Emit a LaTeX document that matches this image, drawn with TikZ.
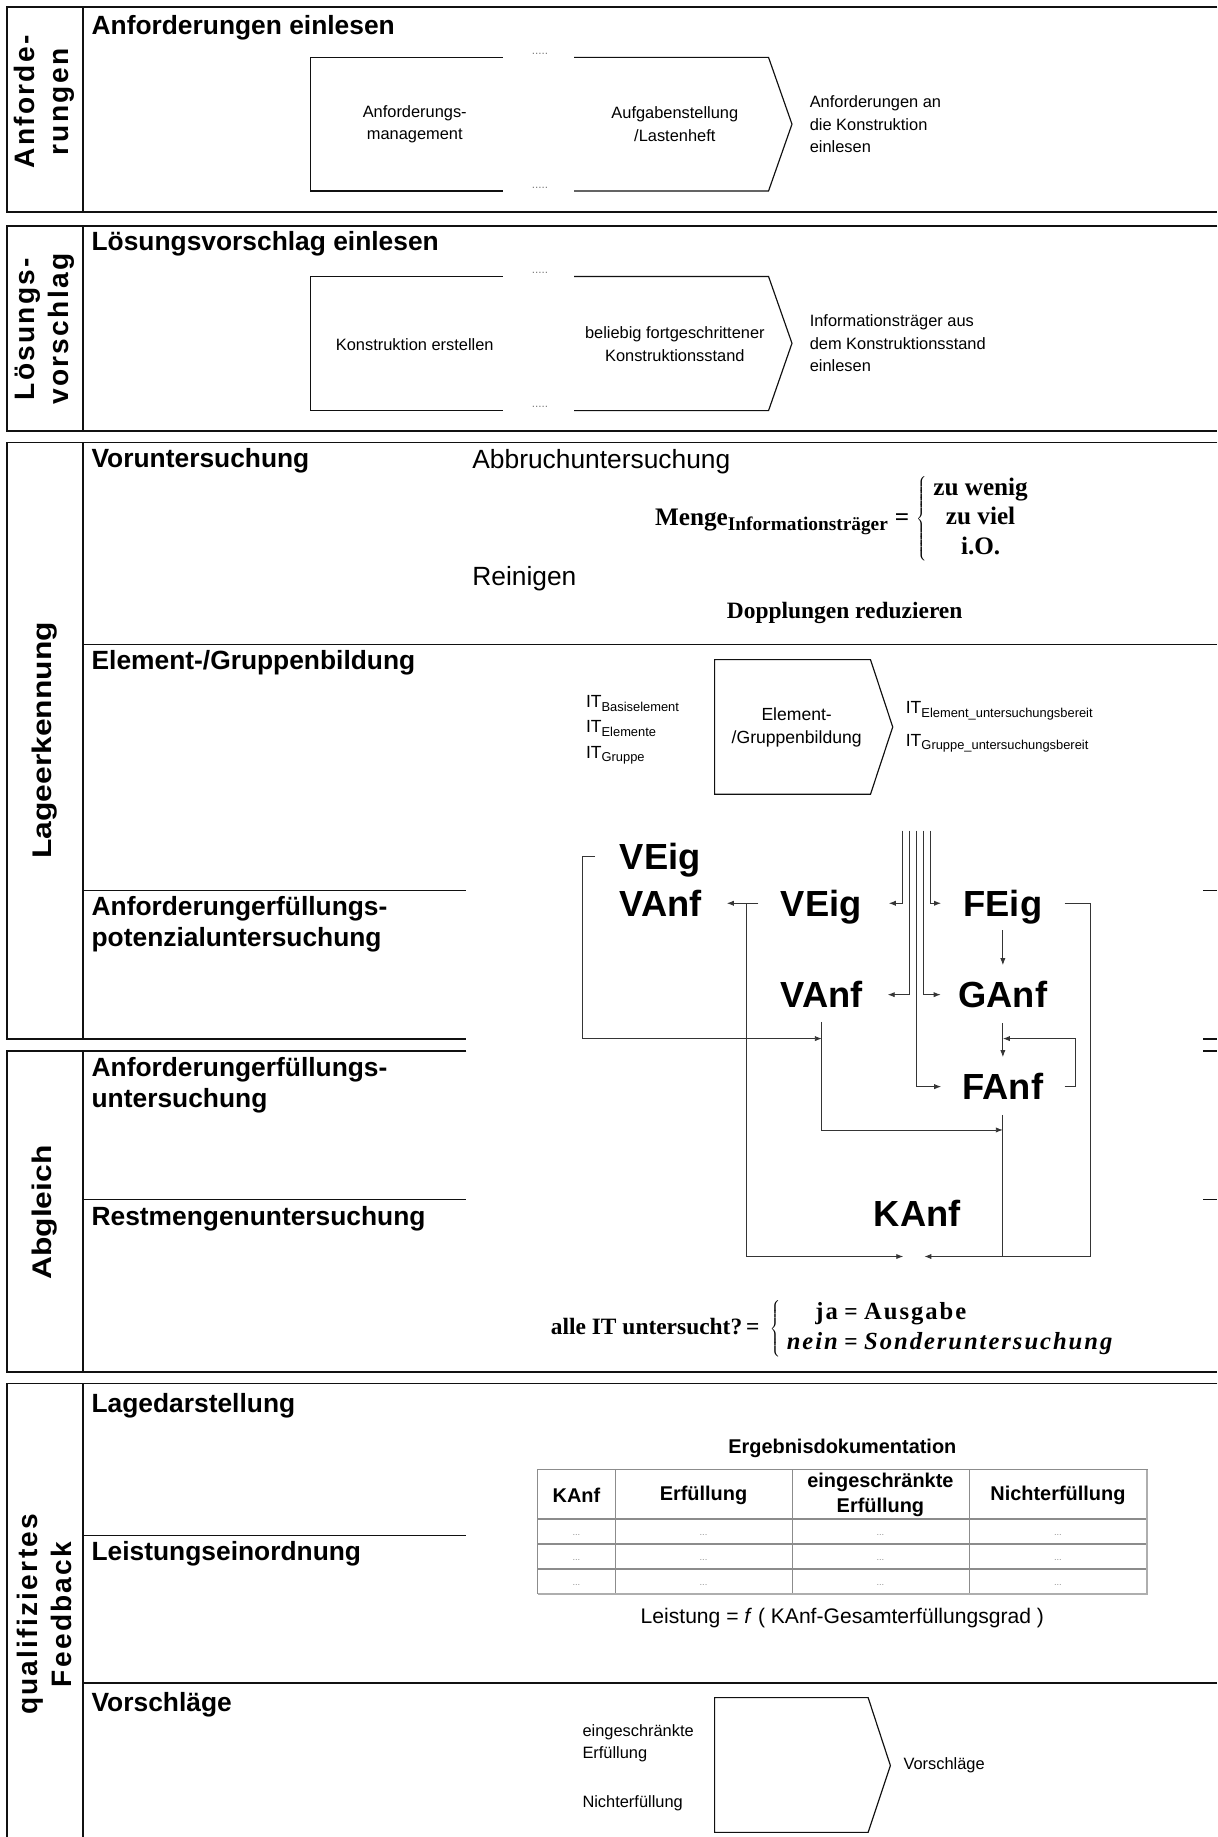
\documentclass[tikz,border=0pt]{standalone}
\usepackage{fontspec}
\setmainfont{Liberation Sans}
\newfontfamily\eqserif{Liberation Serif}
\usepackage{tikz}
\usetikzlibrary{positioning, arrows.meta}
\definecolor{ink}{HTML}{111111}
\definecolor{rule}{HTML}{8C8C8C}
\newcommand\lanefont{\fontsize{24}{29}\selectfont\bfseries\addfontfeature{LetterSpace=8}}
\newcommand\lanefitfont{\fontsize{23}{28}\selectfont\bfseries\addfontfeature{FakeStretch=1.18}}
\newcommand\headfont{\fontsize{22.5}{26}\selectfont\bfseries}
\newcommand\bigtxtfont{\fontsize{22.5}{26}\selectfont}
\newcommand\txtfont{\fontsize{14}{19.5}\selectfont}
\newcommand\flfont{\fontsize{31}{36}\selectfont\bfseries}
\newcommand\eqfont{\fontsize{20}{25}\selectfont\eqserif\bfseries}
\newcommand\casefont{\fontsize{21}{26}\selectfont\addfontfeature{LetterSpace=8}}
\newcommand\thfont{\fontsize{17}{21.5}\selectfont\bfseries}
\newcommand\itsub[1]{IT\raisebox{-3pt}{\fontsize{11}{11}\selectfont#1}}

\begin{document}
\begin{tikzpicture}[x=1pt, y=-1pt,
  frame/.style={line width=1.3pt, ink},
  chev/.style={line width=1pt, ink},
  lnk/.style={line width=0.75pt, ink!85},
  arr/.style={lnk, -{Latex[length=6pt, width=4.5pt]}},
  lane/.style={rotate=90, align=center, font=\lanefont, inner sep=0pt},
  lanefit/.style={lane, font=\lanefitfont},
  phase/.style={anchor=west, align=left, font=\headfont, inner sep=0pt},
  big/.style={anchor=west, font=\bigtxtfont, inner sep=0pt},
  txt/.style={align=center, font=\txtfont, inner sep=0pt},
  note/.style={align=left, font=\txtfont, inner sep=0pt},
  eq/.style={font=\eqfont, inner sep=0pt},
  fl/.style={font=\flfont, inner sep=0pt, text height=22pt, text depth=0pt},
  dots/.style={font=\fontsize{10}{10}\selectfont, text=ink!55, inner sep=0pt},
  th/.style={font=\thfont, align=center, inner sep=0pt},
  cell/.style={font=\fontsize{8}{8}\selectfont, text=ink!45, inner sep=0pt}]
  \useasboundingbox (0,0) rectangle (1039,1568);

  \draw[frame] (1039,6) -- (6,6) -- (6,181) -- (1039,181);
  \draw[frame] (71,6) -- (71,181);
  \node[lane] (lreq) at (38,87) {Anforde-\\rungen};
  \node[phase] (preq) at (78,24) {Anforderungen einlesen};
  \draw[chev] (429,49) -- (265,49) -- (265,163) -- (429,163);
  \draw[chev] (490,49) -- (656,49) -- (676,106) -- (656,163) -- (490,163);
  \node[dots] (dreq1) at (461,46) {.....};
  \node[dots] (dreq2) at (461,160) {.....};
  \node[txt] (mgmt) at (354,106) {Anforderungs-\\management};
  \node[txt] (lheft) at (576,106) {Aufgabenstellung\\/Lastenheft};
  \coordinate (tipreq) at (676,106);
  \node[note, right=15pt of tipreq] (reqin) {Anforderungen an\\die Konstruktion\\einlesen};

  \draw[frame] (1039,193) -- (6,193) -- (6,368) -- (1039,368);
  \draw[frame] (71,193) -- (71,368);
  \node[lane] (lsol) at (38,281) {Lösungs-\\vorschlag};
  \node[phase] (psol) at (78,208) {Lösungsvorschlag einlesen};
  \draw[chev] (429,236) -- (265,236) -- (265,350.5) -- (429,350.5);
  \draw[chev] (490,236) -- (656,236) -- (676,293) -- (656,350.5) -- (490,350.5);
  \node[dots] (dsol1) at (461,233) {.....};
  \node[dots] (dsol2) at (461,347.5) {.....};
  \node[txt] (kerst) at (354,294) {Konstruktion erstellen};
  \node[txt] (kstand) at (576,294) {beliebig fortgeschrittener\\Konstruktionsstand};
  \coordinate (tipsol) at (676,293);
  \node[note, right=15pt of tipsol] (solin) {Informationsträger aus\\dem Konstruktionsstand\\einlesen};

  \draw[frame] (1039,377.5) -- (6,377.5) -- (6,887) -- (398,887);
  \draw[frame] (1027,887) -- (1039,887);
  \draw[frame] (71,377.5) -- (71,887);
  \draw[frame] (71,550) -- (1039,550);
  \draw[frame] (71,760) -- (398,760);
  \draw[frame] (1027,760) -- (1039,760);
  \node[lanefit] (lsit) at (38,632) {Lageerkennung};
  \node[phase] (pvor) at (78,393) {Voruntersuchung};
  \node[big] (abbr) at (403,394) {Abbruchuntersuchung};
  \node[eq, anchor=west, font=\fontsize{21.5}{25}\selectfont\eqserif\bfseries] (menge) at (559,443) {Menge\raisebox{-5pt}{\fontsize{16.5}{16.5}\selectfont Informationsträger}\;=\;$\left\{\;\begin{tabular}{@{}c@{}}zu wenig\\zu viel\\i.O.\end{tabular}\right.$};
  \node[big] (rein) at (403,494) {Reinigen};
  \node[eq] (dopp) at (721,523) {Dopplungen reduzieren};
  \node[phase] (pelem) at (78,566) {Element-/Gruppenbildung};
  \draw[chev] (610,563) -- (743,563) -- (762,620.5) -- (743,678) -- (610,678) -- cycle;
  \node[txt, font=\fontsize{15}{19}\selectfont] (egb) at (680,621) {Element-\\/Gruppenbildung};
  \node[note, anchor=west, font=\fontsize{15}{21.5}\selectfont] (itin) at (500,623) {\itsub{Basiselement}\\\itsub{Elemente}\\\itsub{Gruppe}};
  \coordinate (tipelem) at (762,620.5);
  \node[note, right=11pt of tipelem, font=\fontsize{15}{28}\selectfont] (itout) {\itsub{Element\_untersuchungsbereit}\\\itsub{Gruppe\_untersuchungsbereit}};
  \node[phase] (ppot) at (78,789) {Anforderungerfüllungs-\\potenzialuntersuchung};

  \draw[frame] (398,897) -- (6,897) -- (6,1171) -- (1039,1171);
  \draw[frame] (1027,897) -- (1039,897);
  \draw[frame] (71,897) -- (71,1171);
  \draw[frame] (71,1024) -- (398,1024);
  \draw[frame] (1027,1024) -- (1039,1024);
  \node[lanefit] (lcmp) at (38,1035) {Abgleich};
  \node[phase] (perf) at (78,926.5) {Anforderungerfüllungs-\\untersuchung};
  \node[phase] (prest) at (78,1040) {Restmengenuntersuchung};

  \node[fl, anchor=west] (lveig) at (529,731) {VEig};
  \node[fl, anchor=west] (lvanf) at (529,771) {VAnf};
  \node[fl] (veig) at (701,771) {VEig};
  \node[fl] (feig) at (856,771) {FEig};
  \node[fl] (vanf) at (701.5,849) {VAnf};
  \node[fl] (ganf) at (856,849) {GAnf};
  \node[fl] (fanf) at (856,927.5) {FAnf};
  \node[fl] (kanf) at (783,1036) {KAnf};
  \foreach \n/\x in {1/770,2/776,3/782,4/788,5/794}
    \coordinate (bus\n) at (\x,709);
  \coordinate (split) at (637,771);
  \coordinate (lloop) at (497,886.5);
  \coordinate (fback) at (918,886.5);
  \coordinate (rloop) at (931,1072.5);
  \coordinate (kin) at (780,1072.5);
  \coordinate (midrow) at (0,964.5);
  \draw[arr, shorten >=23pt] (bus1) |- (veig.east);
  \draw[arr, shorten >=21pt] (bus2) |- (vanf.east);
  \draw[arr, shorten >=18pt] (bus3) |- (fanf.west);
  \draw[arr, shorten >=15pt] (bus4) |- (ganf.west);
  \draw[arr, shorten >=19pt] (bus5) |- (feig.west);
  \draw[arr, shorten <=19pt, shorten >=21pt] (veig.west) -- (lvanf.east);
  \draw[arr, shorten >=9pt] (split) |- (kin);
  \draw[arr, shorten <=19pt, shorten >=9pt] (feig.east) -| (rloop) -- (kin);
  \draw[lnk, shorten <=13pt] (fanf.south) -- (fanf.south |- rloop);
  \draw[arr, shorten <=21pt] (lveig.west) -| (lloop) -- (vanf.south |- lloop);
  \draw[arr, shorten <=12pt] (vanf.south) |- (fanf.south |- midrow);
  \draw[arr, shorten <=12pt, shorten >=14pt] (feig.south) -- (ganf.north);
  \draw[arr, shorten <=13pt, shorten >=14pt] (ganf.south) -- (fanf.north);
  \draw[arr, shorten <=18pt] (fanf.east) -| (fback) -- (fanf.north |- fback);
  \node[eq, anchor=west] (alle) at (470,1134) {alle IT untersucht?\,=\;\,$\left\{\begin{tabular}{@{\;}r@{\;=\;}l@{}}\casefont ja & \casefont Ausgabe\\\casefont\itshape nein & \casefont\itshape Sonderuntersuchung\end{tabular}\right.$};

  \draw[frame] (1039,1181) -- (6,1181) -- (6,1568);
  \draw[frame] (71,1181) -- (71,1568);
  \draw[frame] (71,1310.5) -- (398,1310.5);
  \draw[frame] (71,1436.5) -- (1039,1436.5);
  \node[lane] (lfb) at (38,1378) {qualifiziertes\\Feedback};
  \node[phase] (plage) at (78,1199.5) {Lagedarstellung};
  \node[phase] (pleist) at (78,1326) {Leistungseinordnung};
  \node[phase] (pvs) at (78,1455) {Vorschläge};
  \node[th] (tdoc) at (719,1236.5) {Ergebnisdokumentation};
  \draw[rule, line width=0.6pt] (459,1254.5) rectangle (979,1360.3);
  \foreach \x in {525,676,827}
    \draw[rule, line width=0.6pt] (\x,1254.5) -- (\x,1360.3);
  \foreach \y in {1296.3,1317.6,1339}
    \draw[rule, line width=1.8pt] (459,\y) -- (979,\y);
  \draw[rule!70, line width=1.6pt] (979,1254.5) -- (979,1360.3) -- (459,1360.3);
  \node[th] (hkanf) at (492,1276) {KAnf};
  \node[th] (herf) at (600.5,1276) {Erfüllung};
  \node[th] (heing) at (751.5,1276) {eingeschränkte\\Erfüllung};
  \node[th] (hnicht) at (903,1276) {Nichterfüllung};
  \foreach \x [count=\i] in {492,600.5,751.5,903}
    \foreach \y [count=\j] in {1310,1331.5,1353}
      \node[cell] (c\i\j) at (\x,\y) {...};
  \node[big, anchor=center, font=\fontsize{18}{22}\selectfont] (leist) at (719,1380.8) {Leistung = \textit{f} ( KAnf-Gesamterfüllungsgrad )};
  \draw[chev] (610,1449) -- (741,1449) -- (760,1507) -- (741,1564) -- (610,1564) -- cycle;
  \node[note, anchor=west] (vin1) at (497,1488) {eingeschränkte\\Erfüllung};
  \node[note, anchor=west] (vin2) at (497,1539.6) {Nichterfüllung};
  \coordinate (tipvs) at (760,1507);
  \node[note, right=11pt of tipvs] (vout) {Vorschläge};
\end{tikzpicture}
\end{document}
